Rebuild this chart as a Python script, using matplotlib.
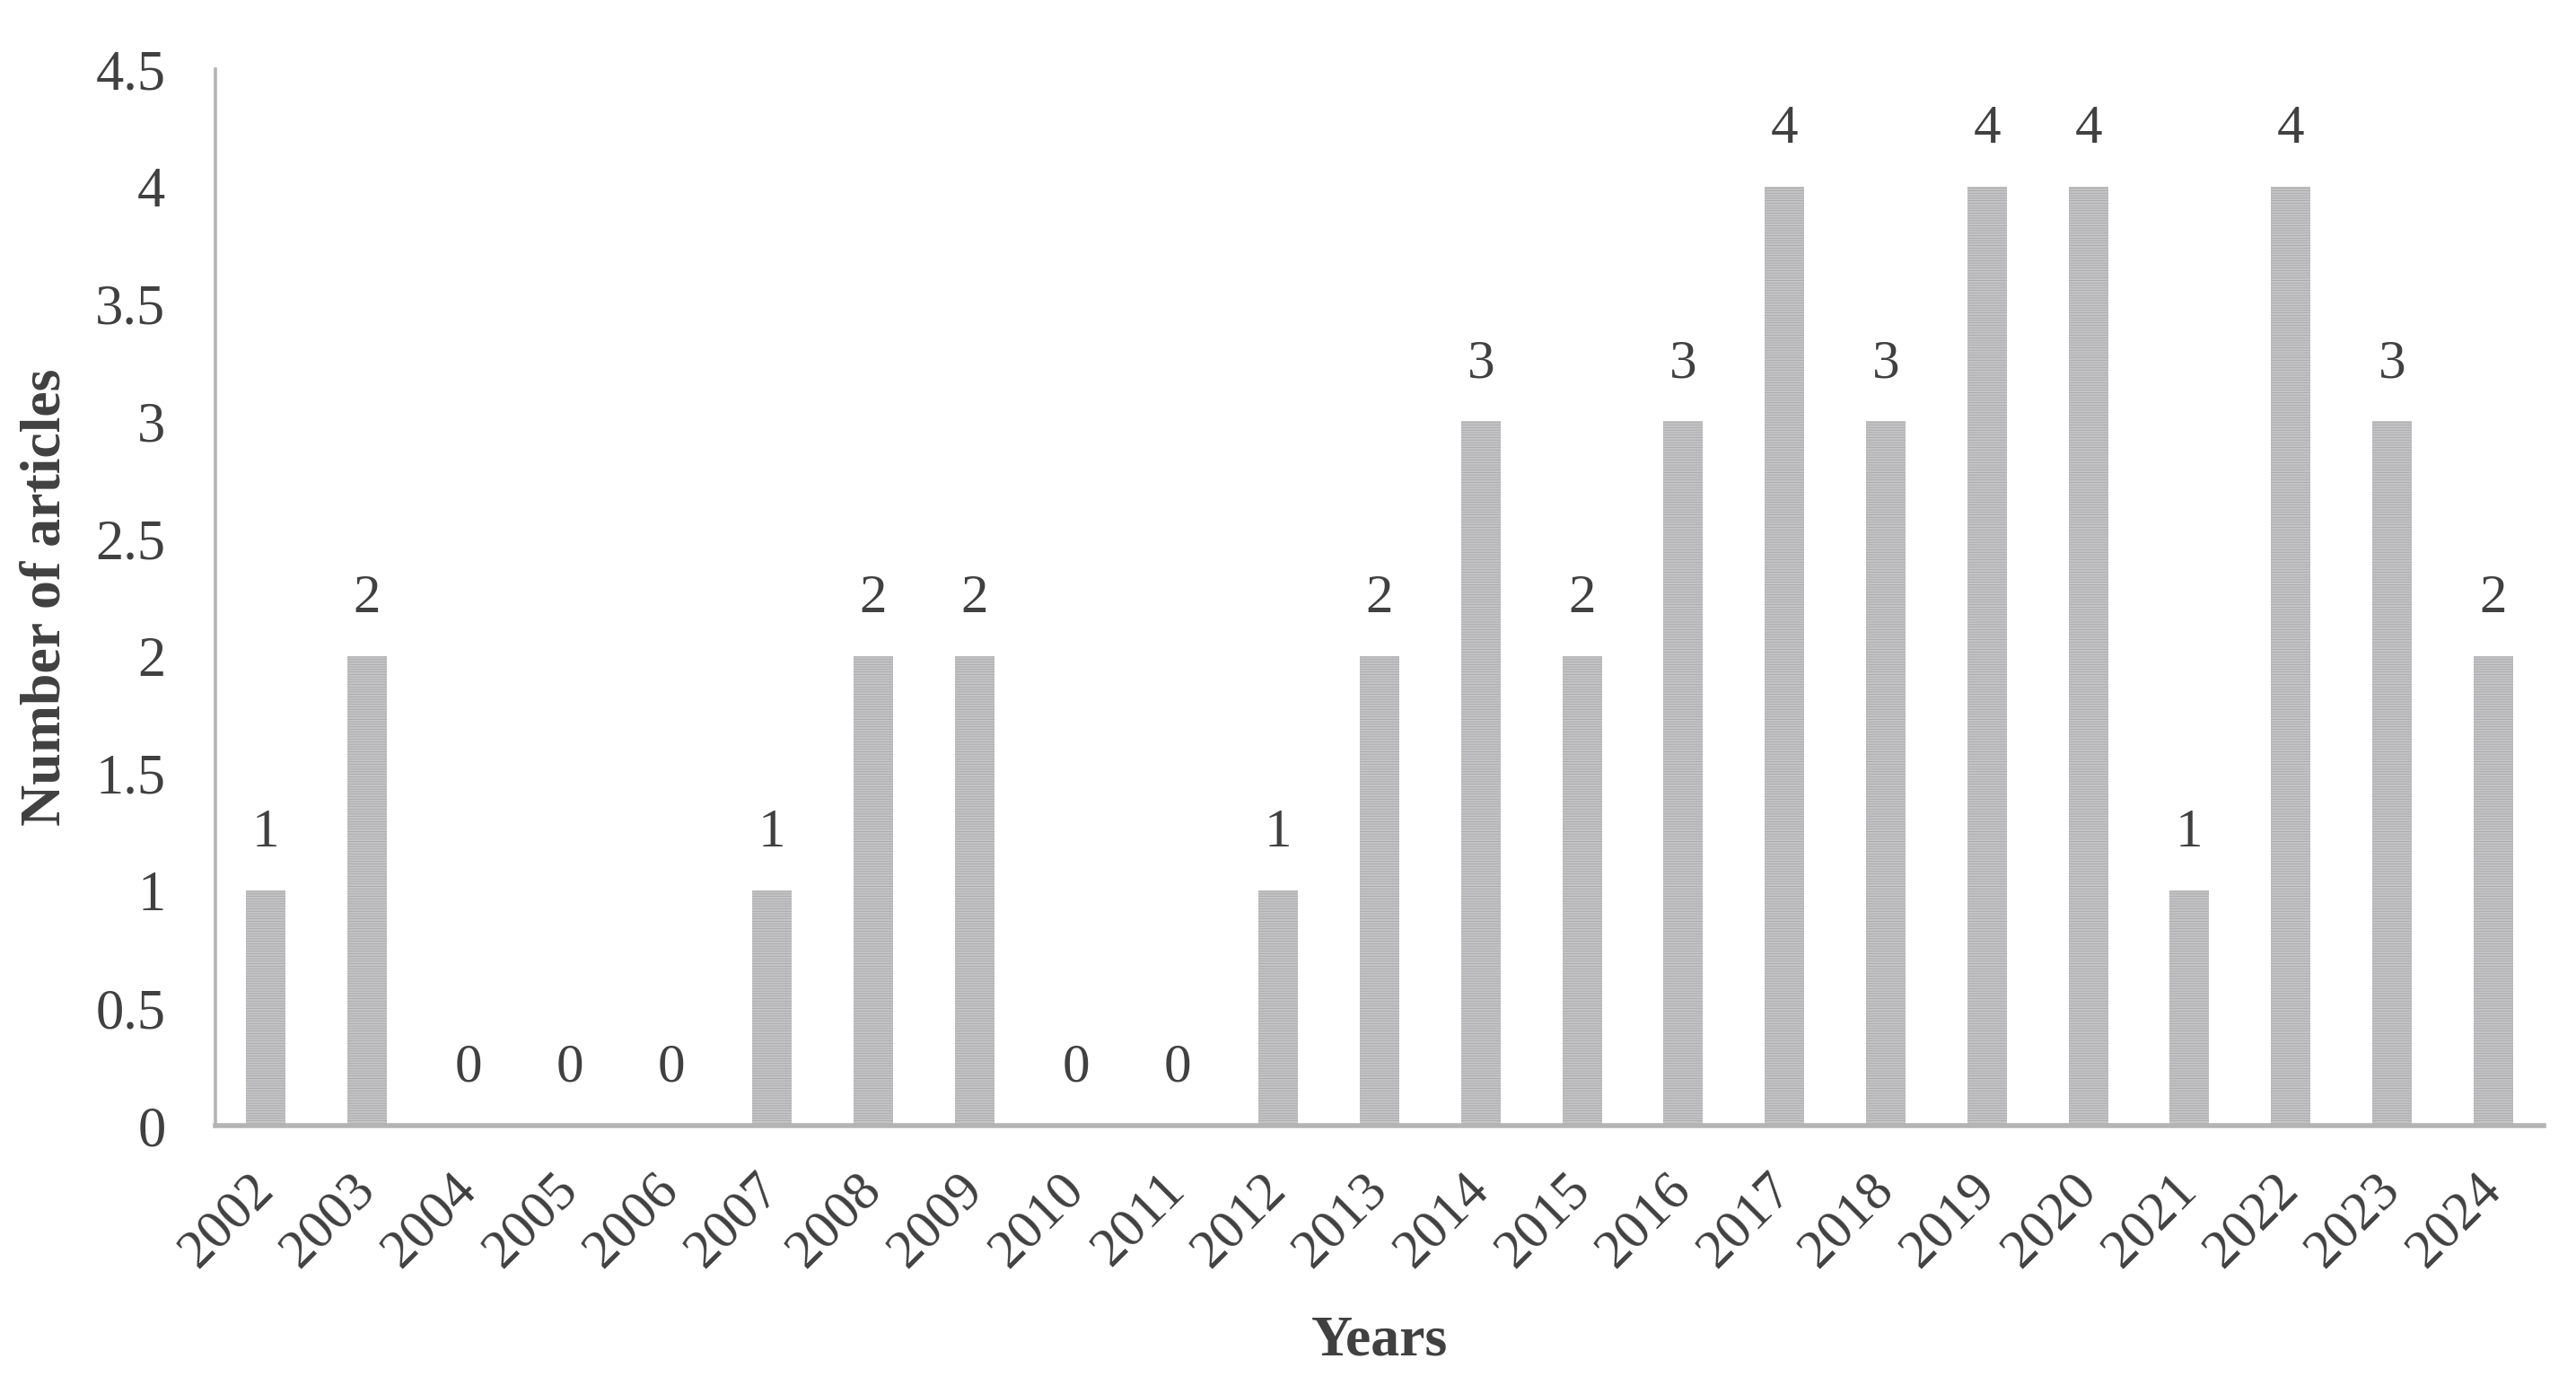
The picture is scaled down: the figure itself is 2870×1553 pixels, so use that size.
#!/usr/bin/env python3
"""Number of articles per year."""

import matplotlib

matplotlib.use("Agg")
import matplotlib.pyplot as plt

years = [str(y) for y in range(2002, 2025)]
articles = [1, 2, 0, 0, 0, 1, 2, 2, 0, 0, 1, 2, 3, 2, 3, 4, 3, 4, 4, 1, 4, 3, 2]
y_ticks = [0, 0.5, 1, 1.5, 2, 2.5, 3, 3.5, 4, 4.5]
y_tick_labels = ["0", "0.5", "1", "1.5", "2", "2.5", "3", "3.5", "4", "4.5"]

plt.rcParams["font.family"] = ["Liberation Serif", "DejaVu Serif"]
plt.rcParams["hatch.linewidth"] = 0.6
text_c = "#404040"
axis_c = "#b4b4b4"

fig = plt.figure(figsize=(28.7, 15.53), dpi=100)
ax = fig.add_axes([0.0836, 0.1925, 0.9039, 0.7579])

x = range(len(years))
ax.bar(x, articles, width=0.39, color="#c4c4c6", edgecolor="#a9a9ab",
       hatch="------", linewidth=0)
for i, v in enumerate(articles):
    ax.annotate(str(v), (i, v), xytext=(0, 46), textcoords="offset points",
                ha="center", va="center", fontsize=44, color=text_c)

ax.set_xlim(-0.5, len(years) - 0.5)
ax.set_ylim(0, 4.5)
ax.set_yticks(y_ticks)
ax.set_yticklabels(y_tick_labels)
ax.set_xticks(list(x))
ax.set_xticklabels(years, rotation=45, ha="right", va="center",
                   rotation_mode="anchor")
ax.tick_params(axis="y", length=0, pad=40, labelsize=45, labelcolor=text_c)
ax.tick_params(axis="x", length=0, pad=45, labelsize=44, labelcolor=text_c)

for s in ("top", "right"):
    ax.spines[s].set_visible(False)
ax.spines["left"].set_color(axis_c)
ax.spines["left"].set_linewidth(2.6)
ax.spines["bottom"].set_color(axis_c)
ax.spines["bottom"].set_linewidth(4)

ax.set_xlabel("Years", fontsize=46, fontweight="bold", color=text_c)
ax.xaxis.set_label_coords(0.5, -0.18)
ax.set_ylabel("Number of articles", fontsize=46, fontweight="bold", color=text_c)
ax.yaxis.set_label_coords(-0.0613, 0.5)

fig.savefig("out.png", dpi=100)
plt.close(fig)
